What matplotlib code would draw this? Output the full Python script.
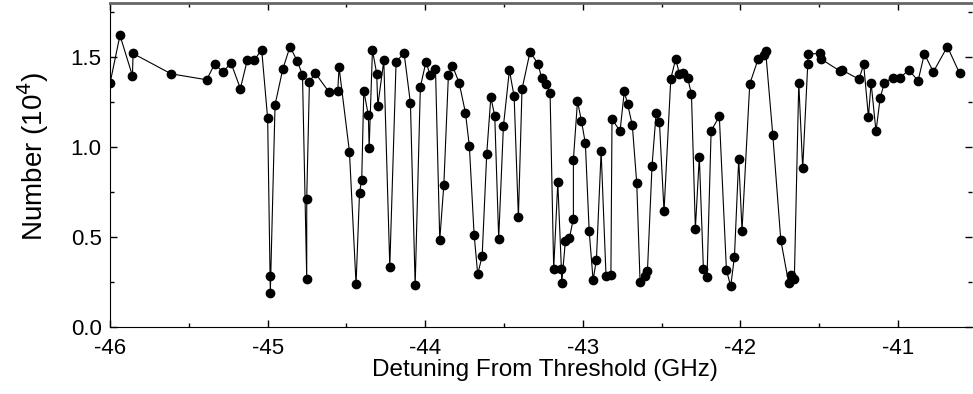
import matplotlib
matplotlib.use("Agg")
import matplotlib.pyplot as plt
from matplotlib.ticker import MultipleLocator

plt.rcParams['font.family'] = ['Liberation Sans', 'DejaVu Sans']
plt.rcParams['axes.unicode_minus'] = False

# detuning (GHz) and atom number (10^4)
detuning = [
    -46.000, -45.937, -45.858, -45.854, -45.613, -45.387, -45.336, -45.285,
    -45.232, -45.173, -45.129, -45.086, -45.038, -45.000, -44.985, -44.983,
    -44.953, -44.904, -44.858, -44.812, -44.779, -44.752, -44.752, -44.735,
    -44.699, -44.610, -44.555, -44.547, -44.481, -44.439, -44.417, -44.403,
    -44.390, -44.361, -44.356, -44.335, -44.308, -44.301, -44.263, -44.225,
    -44.185, -44.134, -44.094, -44.064, -44.031, -43.995, -43.969, -43.935,
    -43.908, -43.882, -43.853, -43.828, -43.785, -43.745, -43.720, -43.690,
    -43.667, -43.639, -43.610, -43.584, -43.559, -43.534, -43.504, -43.466,
    -43.436, -43.409, -43.386, -43.335, -43.284, -43.261, -43.233, -43.208,
    -43.185, -43.159, -43.136, -43.134, -43.111, -43.085, -43.060, -43.060,
    -43.034, -43.009, -42.984, -42.960, -42.935, -42.914, -42.884, -42.853,
    -42.822, -42.815, -42.764, -42.737, -42.716, -42.686, -42.658, -42.637,
    -42.607, -42.590, -42.561, -42.535, -42.514, -42.485, -42.442, -42.411,
    -42.387, -42.362, -42.335, -42.311, -42.286, -42.261, -42.235, -42.212,
    -42.186, -42.134, -42.089, -42.062, -42.038, -42.011, -41.990, -41.941,
    -41.888, -41.848, -41.840, -41.795, -41.744, -41.694, -41.681, -41.658,
    -41.630, -41.605, -41.573, -41.571, -41.497, -41.486, -41.368, -41.358,
    -41.248, -41.218, -41.188, -41.171, -41.140, -41.114, -41.087, -41.034,
    -40.985, -40.932, -40.873, -40.833, -40.776, -40.687, -40.609,
]
number = [
    1.353, 1.619, 1.394, 1.518, 1.405, 1.372, 1.460, 1.416,
    1.464, 1.323, 1.482, 1.479, 1.540, 1.157, 0.283, 0.190,
    1.233, 1.431, 1.556, 1.475, 1.399, 0.266, 0.712, 1.359,
    1.410, 1.303, 1.312, 1.442, 0.972, 0.235, 0.745, 0.817,
    1.311, 1.174, 0.993, 1.538, 1.405, 1.227, 1.479, 0.333,
    1.473, 1.519, 1.242, 0.229, 1.333, 1.473, 1.396, 1.433,
    0.482, 0.789, 1.399, 1.451, 1.355, 1.189, 1.002, 0.512,
    0.292, 0.392, 0.959, 1.274, 1.172, 0.490, 1.115, 1.425,
    1.279, 0.608, 1.320, 1.527, 1.460, 1.379, 1.351, 1.301,
    0.320, 0.802, 0.318, 0.242, 0.475, 0.494, 0.601, 0.928,
    1.253, 1.144, 1.018, 0.534, 0.259, 0.372, 0.974, 0.283,
    0.288, 1.153, 1.087, 1.307, 1.237, 1.118, 0.797, 0.251,
    0.283, 0.311, 0.895, 1.187, 1.135, 0.641, 1.377, 1.488,
    1.403, 1.409, 1.381, 1.294, 0.545, 0.945, 0.318, 0.274,
    1.089, 1.168, 0.316, 0.224, 0.390, 0.933, 0.534, 1.349,
    1.486, 1.510, 1.530, 1.067, 0.482, 0.242, 0.287, 0.266,
    1.355, 0.880, 1.458, 1.514, 1.519, 1.486, 1.420, 1.427,
    1.375, 1.457, 1.166, 1.355, 1.085, 1.268, 1.355, 1.384,
    1.384, 1.427, 1.366, 1.516, 1.416, 1.556, 1.407,
]

fig = plt.figure(figsize=(9.73, 3.94), dpi=100)
ax = fig.add_axes([0.1131, 0.1708, 0.886, 0.8223])

ax.plot(detuning, number, '-', color='black', lw=0.8,
        marker='o', markersize=6, markerfacecolor='black', markeredgecolor='black')

ax.set_xlim(-46, -40.53)
ax.set_ylim(0, 1.8)
ax.xaxis.set_major_locator(MultipleLocator(1))
ax.xaxis.set_minor_locator(MultipleLocator(0.5))
ax.yaxis.set_major_locator(MultipleLocator(0.5))
ax.yaxis.set_minor_locator(MultipleLocator(0.25))
ax.yaxis.set_major_formatter(matplotlib.ticker.FormatStrFormatter('%.1f'))
ax.tick_params(which='both', direction='in', top=True, right=True, labelsize=16)
ax.tick_params(which='major', length=5, width=1)
ax.tick_params(which='minor', length=3, width=1)
ax.tick_params(axis='x', pad=8)
ax.tick_params(axis='y', pad=6)

ax.spines['top'].set_color('#666666')
ax.spines['top'].set_linewidth(2)
ax.spines['right'].set_visible(False)

ax.set_xlabel('Detuning From Threshold (GHz)', fontsize=17.5, va='center')
ax.set_ylabel('Number (10$^4$)', fontsize=20, va='center')
ax.xaxis.set_label_coords(0.505, -0.134)
ax.yaxis.set_label_coords(-0.089, 0.527)

fig.savefig('out.png', dpi=100)
